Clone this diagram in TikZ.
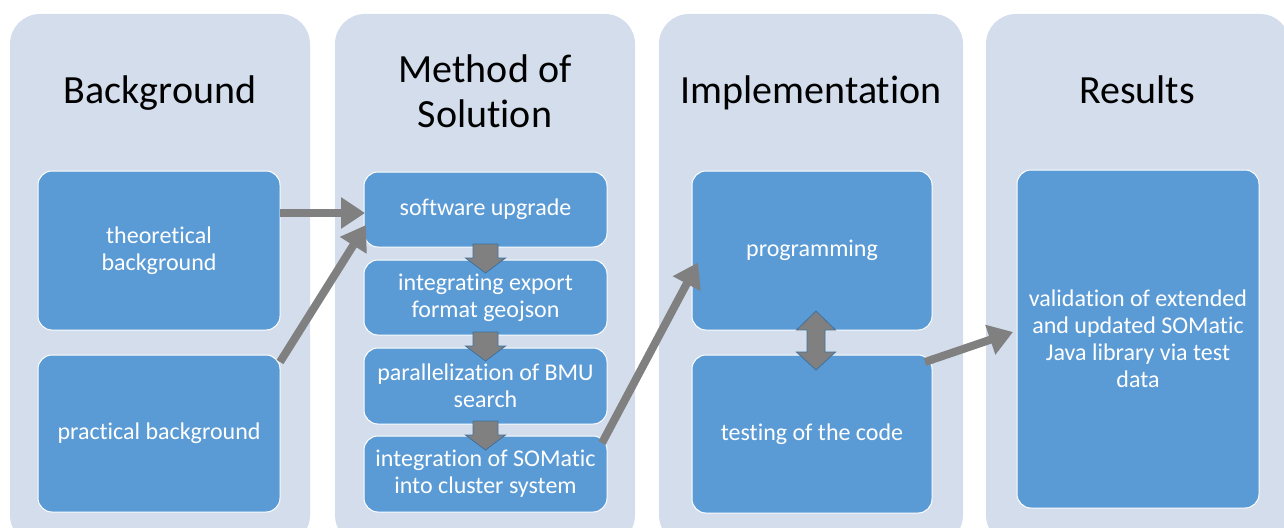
\documentclass[tikz,border=0pt]{standalone}
\usepackage{fontspec}
\setmainfont[Ligatures={NoCommon}]{Carlito}
\usetikzlibrary{calc,arrows.meta}
\definecolor{panelbg}{RGB}{211,221,236}
\definecolor{boxblue}{RGB}{91,155,213}
\definecolor{linkgray}{RGB}{128,128,128}
\definecolor{edgeblue}{RGB}{65,113,156}

% down block arrow hanging below a box
\newcommand\downblock[1]{%
  \draw[blockarrow] ($(#1.south)+(-12.5,-3)$) -- ($(#1.south)+(12.5,-3)$)
    -- ($(#1.south)+(12.5,11)$) -- ($(#1.south)+(20,11)$)
    -- ($(#1.south)+(0,26)$) -- ($(#1.south)+(-20,11)$)
    -- ($(#1.south)+(-12.5,11)$) -- cycle;}

\begin{document}
\begin{tikzpicture}[x=1pt,y=-1pt,
  panel/.style={fill=panelbg, rounded corners=30pt},
  title/.style={font=\fontsize{40}{45}\selectfont, align=center, text=black, inner sep=0pt},
  stepbox/.style={draw=white, line width=1pt, fill=boxblue, rounded corners=14pt,
    text=white, font=\fontsize{24}{27}\selectfont, align=center, inner sep=0pt, outer sep=0pt},
  conn/.style={draw=linkgray, line width=8pt, -{Triangle[length=24pt,width=30pt]}},
  blockarrow/.style={fill=linkgray, draw=edgeblue, line width=0.8pt, line join=miter}
]
\useasboundingbox (0,0) rectangle (1284,527);

% column panels
\fill[panel] (10,14) rectangle (310,545);
\fill[panel] (335,14) rectangle (635,545);
\fill[panel] (659,14) rectangle (963,545);
\fill[panel] (986,14) rectangle (1290,545);

% column headings
\node[title, anchor=base] (t1) at (160,103) {Background};
\node[title, anchor=base] (t2) at (485,127) {Method of\\Solution};
\node[title, anchor=base] (t3) at (811,103) {Implementation};
\node[title, anchor=base] (t4) at (1137,103) {Results};

% Background
\node[stepbox, minimum width=242, minimum height=159] (theo) at (159,250.5) {theoretical\\background};
\node[stepbox, minimum width=242, minimum height=157] (prac) at (159,433.5) {practical background};

% Method of Solution
\node[stepbox, minimum width=243, minimum height=75] (su) at (485.5,209.5) {software upgrade};
\node[stepbox, minimum width=243, minimum height=75] (exp) at (485.5,297.5) {integrating export\\format geojson};
\node[stepbox, minimum width=243, minimum height=76] (par) at (485.5,386) {parallelization of BMU\\search};
\node[stepbox, minimum width=243, minimum height=76] (integ) at (485.5,474) {integration of SOMatic\\into cluster system};

% Implementation
\node[stepbox, minimum width=240, minimum height=159] (prog) at (812,250.5) {programming};
\node[stepbox, minimum width=240, minimum height=158] (test) at (812,434) {testing of the code};

% Results
\node[stepbox, minimum width=242, minimum height=338] (val) at (1138,339)
  {validation of extended\\and updated SOMatic\\Java library via test\\data};

% block arrows inside the method column
\downblock{su}
\downblock{exp}
\downblock{par}

% two-way block arrow between programming and testing
\draw[blockarrow]
  ($(prog.south)+(4,-19)$) -- ($(prog.south)+(23.5,0)$) -- ($(prog.south)+(13,0)$)
  -- ($(test.north)+(13,-3)$) -- ($(test.north)+(23.5,-3)$) -- ($(test.north)+(4,15)$)
  -- ($(test.north)+(-15.5,-3)$) -- ($(test.north)+(-5,-3)$)
  -- ($(prog.south)+(-5,0)$) -- ($(prog.south)+(-15.5,0)$) -- cycle;

% connectors between columns
\draw[conn] ($(theo.north east)+(0,42)$) -- ($(su.west)+(1,3.5)$);
\draw[conn] ($(prac.north east)+(0,7)$) -- ($(su.south west)+(2,-22)$);
\draw[conn] ($(integ.north east)+(-5,7)$) -- ($(prog.west)+(6,12)$);
\draw[conn] ($(test.north east)+(-7,7)$) -- ($(val.west)+(-4,-7)$);
\end{tikzpicture}
\end{document}
